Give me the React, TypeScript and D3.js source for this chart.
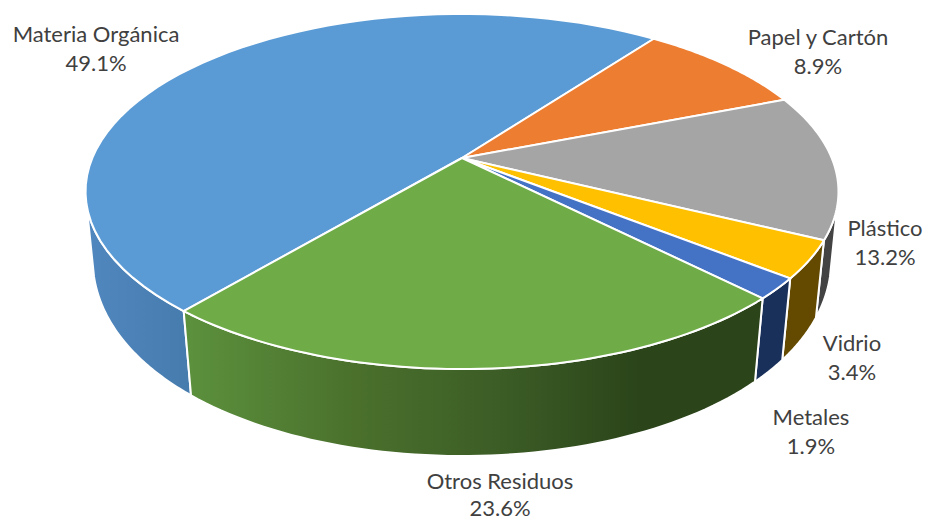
import React from "react";
import * as d3 from "d3";

const categories = ["Materia Orgánica", "Papel y Cartón", "Plástico", "Vidrio", "Metales", "Otros Residuos"];
const percentages = [49.1, 8.9, 13.2, 3.4, 1.9, 23.6];
const percentLabels = ["49.1%", "8.9%", "13.2%", "3.4%", "1.9%", "23.6%"];

const topColors = ["#5b9bd5", "#ed7d31", "#a5a5a5", "#ffc000", "#4472c4", "#6fab47"];
const sideColors = ["url(#sideBlue)", "#7f4a1f", "#434343", "#634a00", "#19305a", "url(#sideGreen)"];
const labelX = [96, 818, 885, 852, 811, 500];
const nameY = [36, 39, 230, 345, 419, 483];
const percentY = [65.5, 68.5, 259.5, 374.5, 448.5, 510.5];

const W = 925, H = 521;
const CX = 462;
const FIRST_ANGLE = (220.1 * Math.PI) / 180 - 2 * Math.PI;
const WALL_FROM = (105 * Math.PI) / 180;
const WALL_TO = (255 * Math.PI) / 180;

const pie = d3
  .pie<number>()
  .sort(null)
  .startAngle(FIRST_ANGLE)
  .endAngle(FIRST_ANGLE + 2 * Math.PI);

// perspective projection of the top face and of the bottom ring
const topRim = (t: number): [number, number] => {
  const u = Math.sin(t), v = -Math.cos(t);
  const w = 1 - 0.1887 * v;
  return [CX + (369.7 * u) / w, 158 + (171.2 * v) / w];
};
const bottomRim = (t: number): [number, number] => {
  const u = Math.sin(t), v = -Math.cos(t);
  return [CX + (363.4 * u) / (1 - 0.178 * v), 221.6 + (206.3 * v) / (1 - 0.12 * v)];
};

const sample = (a: number, b: number) => d3.range(0, 61).map((i) => a + ((b - a) * i) / 60);
const line = d3.line<[number, number]>().curve(d3.curveLinear);

export default function App() {
  const arcs = pie(percentages);

  const walls = arcs
    .map((s, i) => {
      const candidates = [0, 2 * Math.PI, -2 * Math.PI].map((k) => [s.startAngle + k, s.endAngle + k]);
      let best: [number, number] | null = null;
      for (const [a, b] of candidates) {
        const x0 = Math.max(a, WALL_FROM), x1 = Math.min(b, WALL_TO);
        if (x1 > x0) best = [x0, x1];
      }
      if (!best) return null;
      const ts = sample(best[0], best[1]);
      const pts = [...ts.map(topRim), ...ts.slice().reverse().map(bottomRim)];
      return { i, d: line(pts) + "Z" };
    })
    .filter(Boolean) as { i: number; d: string }[];

  const tops = arcs.map((s, i) => {
    const pts: [number, number][] = [[CX, 158], ...sample(s.startAngle, s.endAngle).map(topRim)];
    return { i, d: line(pts) + "Z" };
  });

  return (
    <svg width={W} height={H} style={{ position: "absolute", left: 0, top: 0, background: "#fff" }}>
      <defs>
        <linearGradient id="sideBlue" gradientUnits="userSpaceOnUse" x1={88} x2={192} y1={0} y2={0}>
          <stop offset="0" stopColor="#5087be" />
          <stop offset="1" stopColor="#467bad" />
        </linearGradient>
        <linearGradient id="sideGreen" gradientUnits="userSpaceOnUse" x1={185} x2={755} y1={0} y2={0}>
          <stop offset="0" stopColor="#5c913d" />
          <stop offset="0.3" stopColor="#4a702c" />
          <stop offset="0.55" stopColor="#3c5d26" />
          <stop offset="0.8" stopColor="#2b441a" />
          <stop offset="1" stopColor="#2b441a" />
        </linearGradient>
      </defs>
      {walls.map((w) => (
        <path key={w.i} d={w.d} fill={sideColors[w.i]} stroke="#fff" strokeWidth={2} strokeLinejoin="round" />
      ))}
      {tops.map((t) => (
        <path key={t.i} d={t.d} fill={topColors[t.i]} stroke="#fff" strokeWidth={2} strokeLinejoin="round" />
      ))}
      <g fontFamily="Lato, 'Open Sans', sans-serif" fontSize={22} fill="#404040" textAnchor="middle">
        {categories.map((c, i) => (
          <g key={c}>
            <text x={labelX[i]} y={nameY[i]} dominantBaseline="middle">{c}</text>
            <text x={labelX[i]} y={percentY[i]} dominantBaseline="middle">{percentLabels[i]}</text>
          </g>
        ))}
      </g>
    </svg>
  );
}
